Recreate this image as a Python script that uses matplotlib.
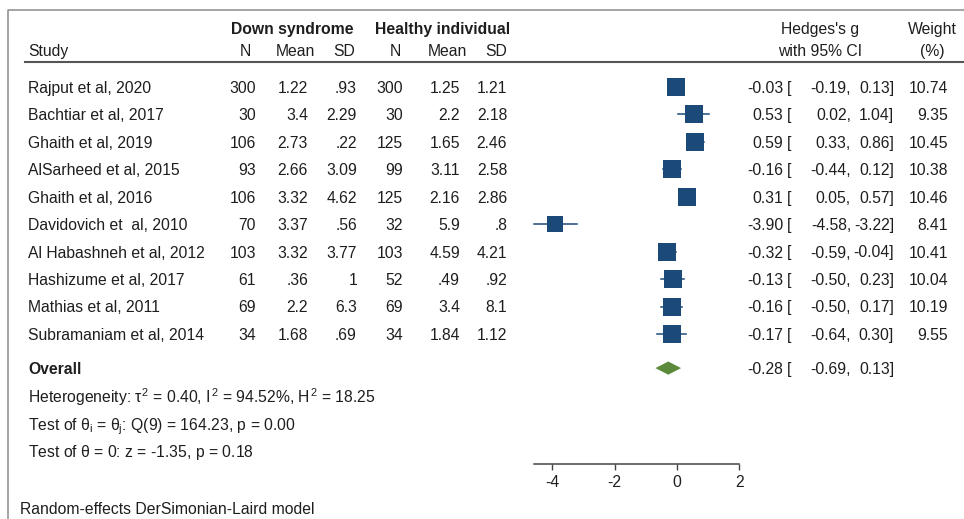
import numpy as np
import matplotlib
matplotlib.use("Agg")
import matplotlib.pyplot as plt

plt.rcParams['font.family'] = ['Liberation Sans', 'DejaVu Sans']
plt.rcParams['mathtext.fontset'] = 'custom'
plt.rcParams['mathtext.rm'] = 'Liberation Sans'
plt.rcParams['mathtext.it'] = 'Liberation Sans'
plt.rcParams['axes.unicode_minus'] = False

studies = ['Rajput et al, 2020', 'Bachtiar et al, 2017', 'Ghaith et al, 2019',
           'AlSarheed et al, 2015', 'Ghaith et al, 2016', 'Davidovich et  al, 2010',
           'Al Habashneh et al, 2012', 'Hashizume et al, 2017', 'Mathias et al, 2011',
           'Subramaniam et al, 2014']
ds_n = [300, 30, 106, 93, 106, 70, 103, 61, 69, 34]
ds_mean = [1.22, 3.4, 2.73, 2.66, 3.32, 3.37, 3.32, 0.36, 2.2, 1.68]
ds_sd = [0.93, 2.29, 0.22, 3.09, 4.62, 0.56, 3.77, 1, 6.3, 0.69]
hc_n = [300, 30, 125, 99, 125, 32, 103, 52, 69, 34]
hc_mean = [1.25, 2.2, 1.65, 3.11, 2.16, 5.9, 4.59, 0.49, 3.4, 1.84]
hc_sd = [1.21, 2.18, 2.46, 2.58, 2.86, 0.8, 4.21, 0.92, 8.1, 1.12]
g = [-0.03, 0.53, 0.59, -0.16, 0.31, -3.90, -0.32, -0.13, -0.16, -0.17]
ci_lo = [-0.19, 0.02, 0.33, -0.44, 0.05, -4.58, -0.59, -0.50, -0.50, -0.64]
ci_hi = [0.13, 1.04, 0.86, 0.12, 0.57, -3.22, -0.04, 0.23, 0.17, 0.30]
weight = [10.74, 9.35, 10.45, 10.38, 10.46, 8.41, 10.41, 10.04, 10.19, 9.55]
overall = (-0.28, -0.69, 0.13)
x_ticks = [-4, -2, 0, 2]

W, H = 964, 519
FS = 11.3
TXT = '#1e1e1e'
NAVY = '#1b4a78'
GREEN = '#5a8a3a'
ROW0, ROWH = 87, 27.45


def stata_num(v):
    s = f"{v:g}"
    return s[1:] if s.startswith("0.") else s


def row_px(r):
    return ROW0 + ROWH * r


fig = plt.figure(figsize=(W / 100, H / 100), dpi=100)

# text layer in pixel coordinates
lay = fig.add_axes([0, 0, 1, 1])
lay.set_xlim(0, W)
lay.set_ylim(H, 0)
lay.axis('off')

# frame and header rule
lay.plot([8, 8, W], [H, 10, 10], color='#8c8c8c', lw=1.1, solid_capstyle='butt')
lay.plot([25, W], [62, 62], color='#555555', lw=1.5)

def t(x, y, s, ha='left', bold=False):
    lay.text(x, y, s, ha=ha, va='baseline', fontsize=FS, color=TXT,
             fontweight='bold' if bold else 'normal')

# headers
t(292, 34, 'Down syndrome', ha='center', bold=True)
t(443, 34, 'Healthy individual', ha='center', bold=True)
t(28, 56, 'Study')
for cx, lab in zip([245, 295, 344, 395, 447, 496], ['N', 'Mean', 'SD', 'N', 'Mean', 'SD']):
    t(cx, 56, lab, ha='center')
t(820, 34, "Hedges's g", ha='center')
t(820, 56, 'with 95% CI', ha='center')
t(932, 34, 'Weight', ha='center')
t(932, 56, '(%)', ha='center')

# study rows
cols = [256, 308, 357, 403, 460, 507]
for i, name in enumerate(studies):
    y = row_px(i) + 5.8
    t(28, y, name)
    vals = [ds_n[i], ds_mean[i], ds_sd[i], hc_n[i], hc_mean[i], hc_sd[i]]
    for cx, v in zip(cols, vals):
        t(cx, y, stata_num(v), ha='right')
    t(783, y, f"{g[i]:.2f}", ha='right')
    t(787, y, '[')
    t(851, y, f"{ci_lo[i]:.2f},", ha='right')
    t(894, y, f"{ci_hi[i]:.2f}]", ha='right')
    t(948, y, f"{weight[i]:.2f}", ha='right')

overall_row = 10.24
y = row_px(overall_row) + 5.8
t(28, y, 'Overall', bold=True)
t(783, y, f"{overall[0]:.2f}", ha='right')
t(787, y, '[')
t(851, y, f"{overall[1]:.2f},", ha='right')
t(894, y, f"{overall[2]:.2f}]", ha='right')

t(28, 403, r"Heterogeneity: $\tau^2$ = 0.40, $I^2$ = 94.52%, $H^2$ = 18.25")
t(28, 430, r"Test of $\theta_i$ = $\theta_j$: Q(9) = 164.23, p = 0.00")
t(28, 457, r"Test of $\theta$ = 0: z = -1.35, p = 0.18")
t(20, 514, 'Random-effects DerSimonian-Laird model')

# forest panel: 0 at x=677px, 31.2 px per unit, axis line at y=464px
scale, zero_px = 31.2, 677
xl = (-4.8, 2.2)
left_px = zero_px + scale * xl[0]
width_px = scale * (xl[1] - xl[0])
top_px, bot_px = 62, 464
ax = fig.add_axes([left_px / W, (H - bot_px) / H, width_px / W, (bot_px - top_px) / H])
ax.patch.set_alpha(0)
ax.set_xlim(*xl)
ax.set_ylim((bot_px - ROW0) / ROWH, (top_px - ROW0) / ROWH)

for i in range(len(g)):
    ax.plot([ci_lo[i], ci_hi[i]], [i, i], color=NAVY, lw=1.1, zorder=2)
    side = 12.96 * np.sqrt(weight[i] / 10.41)
    ax.plot(g[i], i, marker='s', ms=side, color=NAVY, mew=0, zorder=3)

dh = 0.24
ax.fill([overall[1], overall[0], overall[2], overall[0]],
        [overall_row, overall_row - dh, overall_row, overall_row + dh],
        color=GREEN, lw=0, zorder=3)

for s in ['top', 'left', 'right']:
    ax.spines[s].set_visible(False)
ax.spines['bottom'].set_bounds(min(ci_lo), 2)
ax.spines['bottom'].set_color('#444444')
ax.spines['bottom'].set_linewidth(1.1)
ax.set_yticks([])
ax.set_xticks(x_ticks)
ax.tick_params(axis='x', length=4, width=1, color='#444444', labelsize=FS,
               labelcolor=TXT, pad=4)

fig.savefig('out.png', dpi=100)
